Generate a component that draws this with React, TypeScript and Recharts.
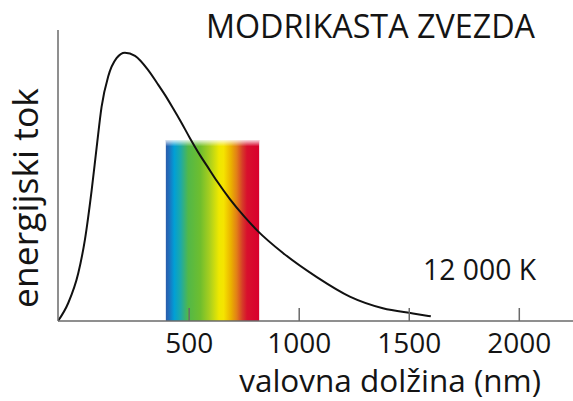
import React from 'react';
import { LineChart, Line, XAxis, YAxis, ReferenceArea, Label } from 'recharts';

// wavelength (nm) along the curve
const wavelengths = [-96, -50, -4, 26, 57, 80, 102, 132, 170, 208, 254, 313, 354, 390, 426, 463, 503, 549, 581, 626, 685, 753, 812, 926, 1080, 1230, 1380, 1517, 1598];
// relative energy flux (0..100)
const flux = [0, 6.1, 16.4, 27.8, 45.0, 59.9, 73.6, 84.0, 90.3, 92.2, 91.1, 86.3, 81.8, 77.7, 73.2, 68.4, 62.9, 57.0, 53.3, 48.1, 41.9, 35.7, 30.9, 23.4, 15.1, 8.4, 4.4, 2.6, 1.6];
const xTicks = [500, 1000, 1500, 2000];
const xDomain = [-96, 2244];
const yDomain = [0, 100];
const spectrumRange = [394, 818];
const spectrumTop = 62.2;
const spectrumOffsets = [0, 0.035, 0.09, 0.16, 0.24, 0.37, 0.47, 0.57, 0.62, 0.7, 0.76, 0.82, 0.87, 1];
const spectrumColors = ['#2a5caa', '#1f6fbd', '#009fd6', '#1eaaa6', '#52b848', '#6fbe2e', '#a9cf1e', '#eee800', '#f5e400', '#eab000', '#e27f17', '#d63d28', '#d8102d', '#d8002c'];
const title = 'MODRIKASTA ZVEZDA';
const xTitle = 'valovna dolžina (nm)';
const yTitle = 'energijski tok';
const tempLabel = '12 000 K';

const data = wavelengths.map((x, i) => ({ x, y: flux[i] }));

const FONT = "'Open Sans', 'DejaVu Sans', sans-serif";
const TEXT = '#141414';
const AXIS = '#6a6a6a';

export default function App() {
  return (
    <div style={{ position: 'absolute', left: 0, top: 0, width: 573, height: 401, background: '#fff', fontFamily: FONT }}>
      <LineChart width={573} height={401} data={data} margin={{ top: 30, right: 0, left: 0, bottom: 0 }}>
        <defs>
          <linearGradient id="spectrum" x1="0" y1="0" x2="1" y2="0">
            {spectrumOffsets.map((o, i) => (
              <stop key={i} offset={o} stopColor={spectrumColors[i]} />
            ))}
          </linearGradient>
          <linearGradient id="spectrumFade" x1="0" y1="0" x2="0" y2="1">
            <stop offset={0} stopColor="#fff" stopOpacity={0.85} />
            <stop offset={0.035} stopColor="#fff" stopOpacity={0} />
            <stop offset={1} stopColor="#fff" stopOpacity={0} />
          </linearGradient>
        </defs>
        <XAxis
          dataKey="x"
          type="number"
          domain={xDomain}
          ticks={xTicks}
          interval={0}
          allowDataOverflow
          height={80}
          tickSize={-13}
          tickMargin={25}
          axisLine={{ stroke: AXIS, strokeWidth: 1.5 }}
          tickLine={{ stroke: AXIS, strokeWidth: 1.5 }}
          tick={{ fontSize: 28, fill: TEXT, fontFamily: FONT }}
        >
          <Label
            content={() => (
              <text x={541} y={391.5} textAnchor="end" fontSize={31.5} fill={TEXT} fontFamily={FONT}>
                {xTitle}
              </text>
            )}
          />
          <Label
            content={() => (
              <text x={535} y={38} textAnchor="end" fontSize={32.3} fill={TEXT} fontFamily={FONT}>
                {title}
              </text>
            )}
          />
          <Label
            content={() => (
              <text x={536} y={280} textAnchor="end" fontSize={28.3} fill={TEXT} fontFamily={FONT}>
                {tempLabel}
              </text>
            )}
          />
        </XAxis>
        <YAxis
          type="number"
          domain={yDomain}
          width={58}
          tick={false}
          tickLine={false}
          axisLine={{ stroke: AXIS, strokeWidth: 1.5 }}
        >
          <Label
            content={() => (
              <text transform="rotate(-90)" x={-198} y={38} textAnchor="middle" fontSize={35.5} fill={TEXT} fontFamily={FONT}>
                {yTitle}
              </text>
            )}
          />
        </YAxis>
        <ReferenceArea x1={spectrumRange[0]} x2={spectrumRange[1]} y1={0} y2={spectrumTop} fill="url(#spectrum)" fillOpacity={1} stroke="none" ifOverflow="visible" />
        <ReferenceArea x1={spectrumRange[0]} x2={spectrumRange[1]} y1={0} y2={spectrumTop} fill="url(#spectrumFade)" fillOpacity={1} stroke="none" ifOverflow="visible" />
        <Line type="monotone" dataKey="y" stroke="#111" strokeWidth={2} dot={false} isAnimationActive={false} />
      </LineChart>
    </div>
  );
}
